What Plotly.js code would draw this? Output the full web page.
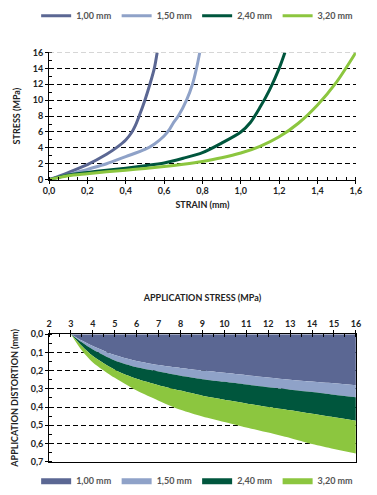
<!DOCTYPE html>
<html>
<head>
<meta charset="utf-8">
<script src="https://cdn.plot.ly/plotly-3.0.1.min.js"></script>
<style>html,body{margin:0;padding:0;background:#fff;}#chart{width:377px;height:495px;}</style>
</head>
<body>
<div id="chart"></div>
<script>
// ---------- DATA ----------
const seriesNames = ["1,00 mm", "1,50 mm", "2,40 mm", "3,20 mm"];
const seriesColors = ["#5b6793", "#8fa2c8", "#00563d", "#8cc63f"];

// Top chart: stress (MPa) vs strain (mm)
const strain1 = [0, 0.1, 0.2, 0.3, 0.35, 0.4, 0.43, 0.45, 0.47, 0.5, 0.526, 0.549, 0.564];
const stress1 = [0, 0.9, 1.9, 3.2, 4.0, 5.0, 5.9, 6.8, 8, 10, 12, 14, 16];
const strain2 = [0, 0.1, 0.2, 0.3, 0.4, 0.5, 0.55, 0.6, 0.63, 0.65, 0.674, 0.717, 0.748, 0.769, 0.786];
const stress2 = [0, 0.6, 1.3, 2.0, 2.9, 3.8, 4.5, 5.5, 6.4, 7.2, 8, 10, 12, 14, 16];
const strain3 = [0, 0.1, 0.2, 0.3, 0.4, 0.5, 0.6, 0.7, 0.8, 0.9, 1.0, 1.05, 1.1, 1.15, 1.2, 1.23];
const stress3 = [0, 0.6, 0.9, 1.2, 1.45, 1.75, 2.1, 2.7, 3.4, 4.6, 6.0, 7.2, 9.1, 11.3, 14, 16];
const strain4 = [0, 0.1, 0.2, 0.3, 0.4, 0.5, 0.6, 0.7, 0.8, 0.9, 1.0, 1.1, 1.2, 1.3, 1.4, 1.5, 1.6];
const stress4 = [0, 0.5, 0.75, 1.0, 1.2, 1.4, 1.65, 1.95, 2.3, 2.75, 3.35, 4.2, 5.4, 7.1, 9.4, 12.3, 16];

// Bottom chart: application distortion (mm) vs application stress (MPa)
const appStress = [3, 3.5, 4, 5, 6, 7, 8, 9, 10, 11, 12, 13, 14, 15, 16];
const dist100 = [0, 0.035, 0.065, 0.115, 0.148, 0.17, 0.186, 0.2, 0.212, 0.225, 0.238, 0.25, 0.26, 0.27, 0.28];
const dist150 = [0, 0.045, 0.085, 0.145, 0.182, 0.205, 0.228, 0.247, 0.262, 0.277, 0.292, 0.305, 0.318, 0.333, 0.347];
const dist240 = [0, 0.065, 0.12, 0.195, 0.245, 0.28, 0.31, 0.338, 0.36, 0.38, 0.4, 0.418, 0.437, 0.456, 0.475];
const dist320 = [0, 0.09, 0.155, 0.24, 0.31, 0.365, 0.415, 0.452, 0.482, 0.512, 0.54, 0.57, 0.603, 0.63, 0.655];

// ---------- TRACES ----------
const topX = [strain1, strain2, strain3, strain4];
const topY = [stress1, stress2, stress3, stress4];
const botY = [dist100, dist150, dist240, dist320];

const traces = [];
for (let i = 0; i < 4; i++) {
  traces.push({
    type: "scatter", mode: "lines", x: topX[i], y: topY[i],
    name: seriesNames[i], xaxis: "x", yaxis: "y", legend: "legend",
    line: {color: seriesColors[i], width: 3, shape: "spline", smoothing: 0.8},
    hoverinfo: "skip"
  });
}
for (let i = 0; i < 4; i++) {
  traces.push({
    type: "scatter", mode: "lines", x: appStress, y: botY[i],
    name: seriesNames[i], xaxis: "x2", yaxis: "y2", legend: "legend2",
    fill: i === 0 ? "tozeroy" : "tonexty", fillcolor: seriesColors[i],
    line: {color: seriesColors[i], width: 0, shape: "spline", smoothing: 0.8},
    hoverinfo: "skip"
  });
}

const tickFont = {family: "Lato, 'Open Sans', sans-serif", size: 9, color: "#222", weight: 700};
const titleFont = {family: "Lato, 'Open Sans', sans-serif", size: 9, color: "#222", weight: 700};
const legFont = {family: "Lato, 'Open Sans', sans-serif", size: 9, color: "#555"};
const dashGrid = "5px,3px";

const layout = {
  width: 377, height: 495,
  margin: {l: 0, r: 0, t: 0, b: 0},
  paper_bgcolor: "#fff", plot_bgcolor: "rgba(0,0,0,0)",
  separators: ",.",
  font: tickFont,
  showlegend: true,
  xaxis: {
    domain: [0.130, 0.944], anchor: "y", range: [0, 1.6], dtick: 0.2, tick0: 0, tickformat: ".1f",
    showline: true, linecolor: "#000", linewidth: 1, ticks: "outside", ticklen: 3, tickcolor: "#000",
    minor: {dtick: 0.05, ticks: "inside", ticklen: 3, tickcolor: "#000", showgrid: false},
    showgrid: false, zeroline: false, tickfont: tickFont,
    title: {text: "STRAIN (mm)", font: titleFont, standoff: 6}
  },
  yaxis: {
    domain: [0.637, 0.894], anchor: "x", range: [0, 16], dtick: 2, tick0: 0,
    showline: true, linecolor: "#000", linewidth: 1, ticks: "outside", ticklen: 3, tickcolor: "#000",
    minor: {dtick: 1, ticks: "inside", ticklen: 3, tickcolor: "#000", showgrid: false},
    showgrid: true, gridcolor: "#000", gridwidth: 1, griddash: dashGrid, zeroline: false, tickfont: tickFont,
    title: {text: "STRESS (MPa)", font: titleFont, standoff: 10}
  },
  xaxis2: {
    domain: [0.130, 0.944], anchor: "y2", side: "top", range: [2, 16], dtick: 1, tick0: 2,
    showline: true, mirror: true, linecolor: "#000", linewidth: 1, ticks: "outside", ticklen: 3, tickcolor: "#000",
    minor: {dtick: 0.5, ticks: "inside", ticklen: 3, tickcolor: "#000", showgrid: false},
    showgrid: false, zeroline: false, tickfont: tickFont,
    title: {text: "APPLICATION STRESS (MPa)", font: titleFont, standoff: 14}
  },
  yaxis2: {
    domain: [0.0673, 0.325], anchor: "x2", range: [0.7, 0], dtick: 0.1, tick0: 0, tickformat: ".1f",
    showline: true, mirror: true, linecolor: "#000", linewidth: 1, ticks: "outside", ticklen: 3, tickcolor: "#000",
    minor: {dtick: 0.05, ticks: "inside", ticklen: 3, tickcolor: "#000", showgrid: false},
    showgrid: true, gridcolor: "#000", gridwidth: 1, griddash: dashGrid, zeroline: false, tickfont: tickFont,
    title: {text: "APPLICATION DISTORTION (mm)", font: titleFont, standoff: 10}
  },
  legend: {
    orientation: "h", x: 0.95, xanchor: "right", y: 0.968, yanchor: "middle",
    font: legFont, itemwidth: 30, traceorder: "normal", tracegroupgap: 0, bgcolor: "rgba(0,0,0,0)"
  },
  legend2: {
    orientation: "h", x: 0.95, xanchor: "right", y: 0.03, yanchor: "middle",
    font: legFont, itemwidth: 30, traceorder: "normal", tracegroupgap: 0, bgcolor: "rgba(0,0,0,0)"
  },
  shapes: [{
    type: "line", xref: "x domain", yref: "y", x0: 0, x1: 1, y0: 16, y1: 16,
    line: {color: "#aaa", width: 1, dash: dashGrid}, layer: "above"
  }]
};

Plotly.newPlot("chart", traces, layout, {staticPlot: true, displayModeBar: false});
</script>
</body>
</html>
